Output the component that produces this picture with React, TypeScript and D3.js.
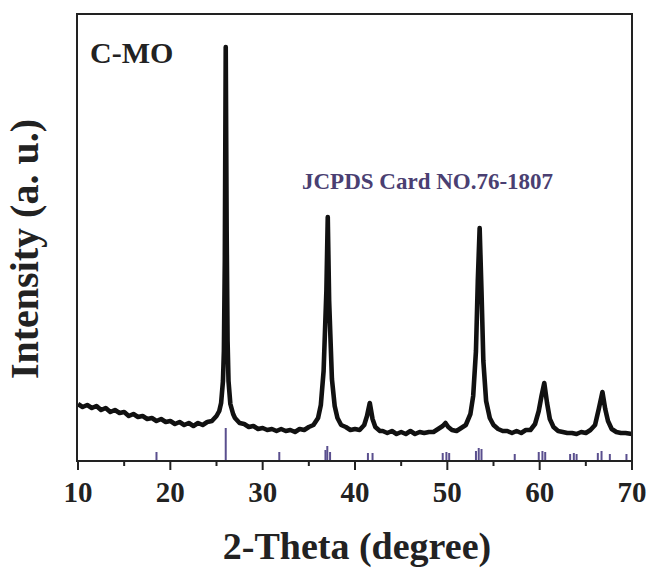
import React from "react";
import * as d3 from "d3";

// Measured XRD scan: [2θ (degree), intensity (a.u.)]
const scanTheta = [
  10.0, 10.5, 11.0, 11.5, 12.0, 12.5, 13.0, 13.5, 14.0, 14.5, 15.0, 15.5, 16.0, 16.5, 17.0, 17.5, 18.0, 18.5, 19.0, 19.5,
  20.0, 20.5, 21.0, 21.5, 22.0, 22.5, 23.0, 23.5, 24.0, 24.5, 25.0, 25.3, 25.5, 25.7, 25.8, 25.9, 26.0, 26.1, 26.2, 26.3,
  26.5, 26.8, 27.0, 27.5, 28.0, 28.5, 29.0, 29.5, 30.0, 30.5, 31.0, 31.5, 32.0, 32.5, 33.0, 33.5, 34.0, 34.5, 35.0, 35.5,
  36.0, 36.3, 36.6, 36.9, 37.05, 37.2, 37.5, 37.8, 38.1, 38.5, 39.0, 39.5, 40.0, 40.5, 41.0, 41.3, 41.6, 41.9, 42.2, 42.7,
  43.0, 43.5, 44.0, 44.5, 45.0, 45.5, 46.0, 46.5, 47.0, 47.5, 48.0, 48.5, 49.0, 49.5, 49.8, 50.1, 50.5, 51.0, 51.5, 52.0,
  52.5, 52.8, 53.1, 53.3, 53.5, 53.7, 53.9, 54.2, 54.6, 55.0, 55.5, 56.0, 56.5, 57.0, 57.5, 58.0, 58.5, 59.0, 59.5, 59.9,
  60.2, 60.5, 60.8, 61.1, 61.5, 62.0, 62.5, 63.0, 63.5, 64.0, 64.5, 65.0, 65.5, 66.0, 66.4, 66.8, 67.1, 67.4, 67.8, 68.3,
  68.8, 69.3, 70.0,
];
const scanIntensity = [
  57, 54, 56, 53, 55, 51, 53, 49, 51, 48, 49, 45, 47, 44, 45, 42, 43, 40, 42, 39,
  40, 37, 39, 36, 38, 35, 38, 36, 39, 40, 45, 50, 58, 80, 110, 200, 414, 230, 120, 80,
  57, 47, 43, 38, 37, 34, 35, 32, 33, 31, 32, 30, 32, 30, 31, 29, 32, 31, 34, 36,
  43, 56, 90, 170, 244, 160, 82, 55, 43, 36, 34, 31, 32, 31, 36, 45, 58, 42, 34, 30,
  30, 28, 30, 27, 29, 27, 30, 27, 29, 28, 29, 29, 32, 35, 38, 34, 31, 30, 33, 36,
  47, 65, 110, 180, 233, 170, 100, 60, 43, 36, 32, 30, 30, 28, 30, 28, 31, 31, 37, 50,
  65, 78, 58, 42, 34, 30, 29, 28, 28, 27, 29, 28, 31, 36, 52, 69, 52, 40, 32, 29,
  28, 28, 27,
];

// Reference stick pattern (JCPDS Card NO.76-1807): position and relative height
const refTheta = [18.5, 26.0, 31.8, 36.8, 37.0, 37.3, 41.4, 41.9, 49.5, 49.9, 50.2, 53.1, 53.4, 53.7, 57.3, 59.9, 60.3, 60.6, 63.3, 63.7, 64.0, 66.3, 66.7, 67.6, 69.4];
const refHeight = [9, 33, 9, 11, 15, 9, 8, 8, 8, 9, 8, 10, 13, 12, 7, 9, 10, 9, 7, 8, 7, 8, 10, 7, 7];

const xMajorTicks = [10, 20, 30, 40, 50, 60, 70];
const xMinorTicks = [15, 25, 35, 45, 55, 65];

const W = 651;
const H = 571;
const margin = { left: 77, right: 19, top: 14, bottom: 110 };
const FONT = "'Liberation Serif', 'Times New Roman', serif";
const REF_COLOR = "#5a4f8e";

export default function App() {
  const x = d3.scaleLinear().domain([10, 70]).range([margin.left + 1, W - margin.right]);
  const y = d3.scaleLinear().domain([0, 447]).range([H - margin.bottom, margin.top]);
  const y0 = H - margin.bottom;

  const points: [number, number][] = scanTheta.map((t, i) => [t, scanIntensity[i]]);
  const line = d3
    .line<[number, number]>()
    .x((d) => x(d[0]))
    .y((d) => y(d[1]))
    .curve(d3.curveLinear);

  return (
    <svg width={W} height={H} style={{ position: "absolute", left: 0, top: 0, background: "#fff" }}>
      {/* reference sticks */}
      {refTheta.map((t, i) => (
        <line key={"r" + i} x1={x(t)} x2={x(t)} y1={y0} y2={y(refHeight[i])} stroke={REF_COLOR} strokeWidth={2} />
      ))}

      {/* diffraction pattern */}
      <path d={line(points) || ""} fill="none" stroke="#111" strokeWidth={4.6} strokeLinejoin="round" />

      {/* frame */}
      <rect
        x={margin.left}
        y={margin.top}
        width={W - margin.right - margin.left}
        height={y0 - margin.top}
        fill="none"
        stroke="#222"
        strokeWidth={2}
      />

      {/* bottom axis ticks */}
      {xMajorTicks.map((t) => (
        <g key={"M" + t}>
          <line x1={x(t)} x2={x(t)} y1={y0} y2={y0 + 9} stroke="#222" strokeWidth={2} />
          <text x={x(t)} y={502} textAnchor="middle" fontFamily={FONT} fontWeight="bold" fontSize={29} fill="#222">
            {t}
          </text>
        </g>
      ))}
      {xMinorTicks.map((t) => (
        <line key={"m" + t} x1={x(t)} x2={x(t)} y1={y0} y2={y0 + 5} stroke="#222" strokeWidth={2} />
      ))}

      {/* axis titles */}
      <text x={357} y={559} textAnchor="middle" fontFamily={FONT} fontWeight="bold" fontSize={38} fill="#222">
        2-Theta (degree)
      </text>
      <text
        transform={`translate(38,249) rotate(-90)`}
        textAnchor="middle"
        fontFamily={FONT}
        fontWeight="bold"
        fontSize={40}
        fill="#222"
      >
        Intensity (a. u.)
      </text>

      {/* annotations */}
      <text x={90} y={63} fontFamily={FONT} fontWeight="bold" fontSize={30} fill="#222">
        C-MO
      </text>
      <text x={302} y={189} fontFamily={FONT} fontWeight="bold" fontSize={23} fill="#4a3f72">
        JCPDS Card NO.76-1807
      </text>
    </svg>
  );
}
